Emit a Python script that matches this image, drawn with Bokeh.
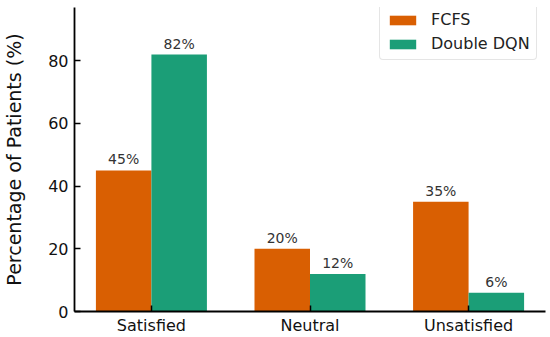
import numpy as np
from bokeh.plotting import figure
from bokeh.models import ColumnDataSource, FixedTicker, Legend, LegendItem
from bokeh.core.properties import value
from bokeh.embed import file_html
from bokeh.resources import INLINE

categories = ["Satisfied", "Neutral", "Unsatisfied"]
fcfs = [45, 20, 35]
dqn = [82, 12, 6]
series_names = ["FCFS", "Double DQN"]
colors = ["#d95f02", "#1b9e77"]
yticks = [0, 20, 40, 60, 80]

FONT = "DejaVu Sans"
bw = 0.35
idx = np.arange(len(categories))

p = figure(width=550, height=337, x_range=(-0.485, 2.485), y_range=(0, 97),
           output_backend="svg", toolbar_location=None,
           min_border_left=73, min_border_right=5, min_border_top=7, min_border_bottom=0)
p.outline_line_color = None
p.xgrid.visible = False
p.ygrid.visible = False

renderers = []
for k, (vals, col) in enumerate(zip([fcfs, dqn], colors)):
    xs = idx + (k - 0.5) * bw
    src = ColumnDataSource(dict(x=xs, top=vals, lab=[f"{v}%" for v in vals]))
    r = p.vbar(x="x", top="top", width=bw, bottom=0, source=src, fill_color=col, line_color=None)
    renderers.append(r)
    p.text(x="x", y="top", text="lab", source=src, text_align="center", text_baseline="bottom",
           y_offset=-3, text_font=value(FONT), text_font_size="14px", text_color="#333333")

for ax in (p.xaxis, p.yaxis):
    ax.axis_line_width = 1.8
    ax.axis_line_color = "black"
    ax.major_tick_in = 6
    ax.major_tick_out = 0
    ax.major_tick_line_width = 1.5
    ax.minor_tick_line_color = None
    ax.major_label_text_font = FONT
    ax.major_label_text_font_size = "16px"
    ax.major_label_text_color = "#111111"

p.xaxis.ticker = FixedTicker(ticks=list(idx))
p.xaxis.major_label_overrides = {int(i): c for i, c in zip(idx, categories)}
p.xaxis.major_label_standoff = 4
p.yaxis.ticker = FixedTicker(ticks=yticks)
p.yaxis.major_label_standoff = 6
p.yaxis.axis_label = "Percentage of Patients (%)"
p.yaxis.axis_label_text_font = FONT
p.yaxis.axis_label_text_font_size = "19px"
p.yaxis.axis_label_text_font_style = "normal"
p.yaxis.axis_label_text_color = "#111111"
p.yaxis.axis_label_standoff = 20

legend = Legend(items=[LegendItem(label=n, renderers=[r]) for n, r in zip(series_names, renderers)],
                location=(305, 251))
legend.margin = 0
legend.padding = 6
legend.spacing = 5
legend.glyph_width = 33
legend.glyph_height = 12
legend.label_standoff = 12
legend.label_text_font = FONT
legend.label_text_font_size = "16px"
legend.label_text_color = "#222222"
legend.border_line_color = "#cccccc"
legend.border_line_width = 1
legend.border_radius = 4
legend.background_fill_alpha = 0.9
p.add_layout(legend, "center")

open("out.html", "w").write(file_html(p, INLINE))
